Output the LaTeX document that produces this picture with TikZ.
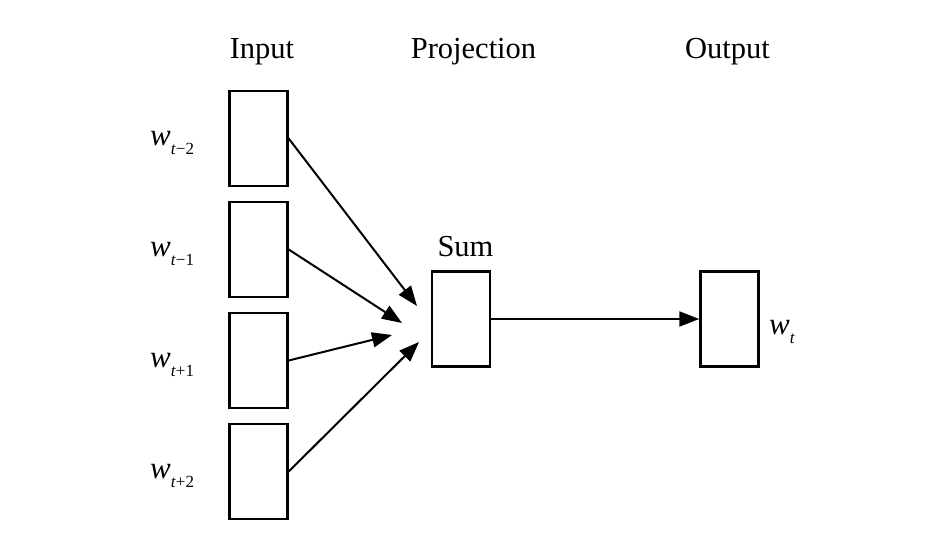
\documentclass[tikz,border=0pt]{standalone}
\usepackage{fontspec}
\setmainfont{Liberation Serif}
\usepackage{tikz}
\usetikzlibrary{positioning, arrows.meta}
\newcommand{\wsub}[1]{\textit{w}\raisebox{-9pt}{\fontsize{17}{17}\selectfont #1}}

\begin{document}
\begin{tikzpicture}[x=1pt, y=-1pt,
    layer/.style={draw, line width=2.4pt, minimum width=58pt, minimum height=95pt, inner sep=0pt},
    conn/.style={line width=2pt, -{Triangle[length=20pt,width=15pt]}},
    title/.style={font=\fontsize{30.5}{32}\selectfont, anchor=base},
    wlab/.style={font=\fontsize{31}{32}\selectfont, anchor=base west, inner sep=0pt}]
  \useasboundingbox (0,0) rectangle (945,552);

  % Column titles
  \node[title] (tin) at (262, 58) {Input};
  \node[title] (tproj) at (473.5, 58) {Projection};
  \node[title] (tout) at (727.5, 58) {Output};

  % Input words
  \foreach \i/\y/\s in {1/138.5/{\textit{t}−2}, 2/249.5/{\textit{t}−1}, 3/360.5/{\textit{t}+1}, 4/471.5/{\textit{t}+2}} {
    \node[layer] (in\i) at (258.5, \y) {};
    \node[wlab] (lin\i) at (150, \y+7) {\wsub{\s}};
  }

  % Projection layer
  \node[layer] (sum) at (461, 319) {};
  \node[title] (tsum) at (465.5, 256) {Sum};

  % Output word
  \node[layer] (out) at (729.5, 319) {};
  \node[wlab] (lout) at (769, 334) {\wsub{\textit{t}}};

  % Connectors
  \coordinate (tip1) at (417, 306);
  \coordinate (tip2) at (402, 323);
  \coordinate (tip3) at (392, 335);
  \coordinate (tip4) at (419, 342);
  \foreach \i in {1,...,4} {
    \draw[conn] (in\i.east) -- (tip\i);
  }
  \draw[conn] (sum.east) -- (out.west);
\end{tikzpicture}
\end{document}
